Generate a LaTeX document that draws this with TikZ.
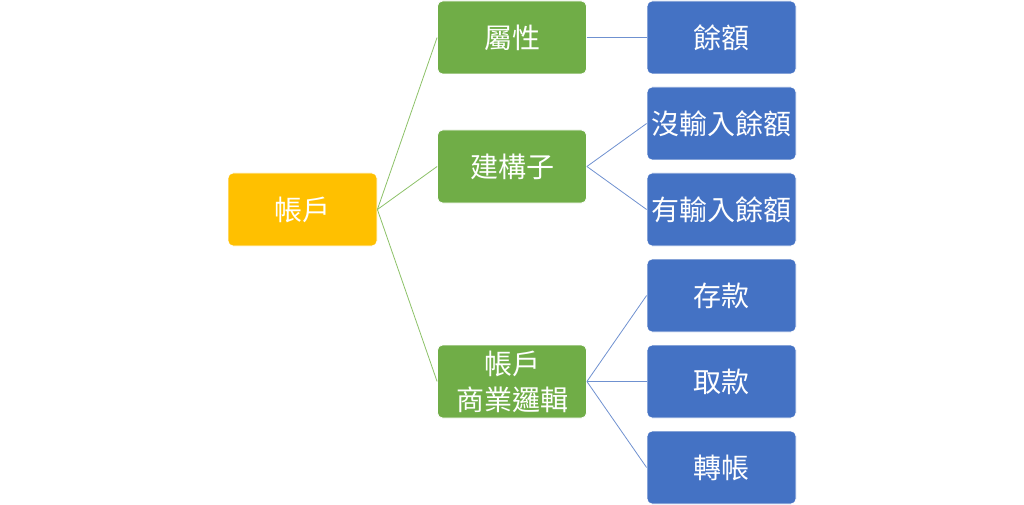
\documentclass[tikz,border=0pt]{standalone}
\usepackage{fontspec}
\newfontfamily\cjk{Noto Sans CJK TC}
\definecolor{rootc}{HTML}{FFC000}
\definecolor{greenc}{HTML}{70AD47}
\definecolor{bluec}{HTML}{4472C4}
\definecolor{greenl}{HTML}{8CC168}
\definecolor{bluel}{HTML}{6F91D0}
\begin{document}
\begin{tikzpicture}[x=1pt,y=-1pt,
  box/.style={rounded corners=5pt,minimum width=149pt,minimum height=73pt,inner sep=0pt,
    text=white,font=\cjk\fontsize{28}{36}\selectfont,align=center,draw=white,line width=0.8pt},
  rootbox/.style={box,fill=rootc},
  gbox/.style={box,fill=greenc},
  bbox/.style={box,fill=bluec},
  gline/.style={draw=greenl,line width=0.8pt},
  bline/.style={draw=bluel,line width=0.8pt}]
\useasboundingbox (0,0) rectangle (1024,505);
\node[rootbox] (root) at (302.5,209.5) {帳戶};
\node[gbox] (attr) at (512,37.5) {屬性};
\node[gbox] (ctor) at (512,166.5) {建構子};
\node[gbox] (logic) at (512,381.5) {帳戶\\商業邏輯};
\node[bbox] (bal) at (721.5,37.5) {餘額};
\node[bbox] (nob) at (721.5,123.5) {沒輸入餘額};
\node[bbox] (hasb) at (721.5,209.5) {有輸入餘額};
\node[bbox] (dep) at (721.5,295.5) {存款};
\node[bbox] (wd) at (721.5,381.5) {取款};
\node[bbox] (tr) at (721.5,467.5) {轉帳};
\draw[gline] (root.east) -- (attr.west);
\draw[gline] (root.east) -- (ctor.west);
\draw[gline] (root.east) -- (logic.west);
\draw[bline] (attr.east) -- (bal.west);
\draw[bline] (ctor.east) -- (nob.west);
\draw[bline] (ctor.east) -- (hasb.west);
\draw[bline] (logic.east) -- (dep.west);
\draw[bline] (logic.east) -- (wd.west);
\draw[bline] (logic.east) -- (tr.west);
\end{tikzpicture}
\end{document}
